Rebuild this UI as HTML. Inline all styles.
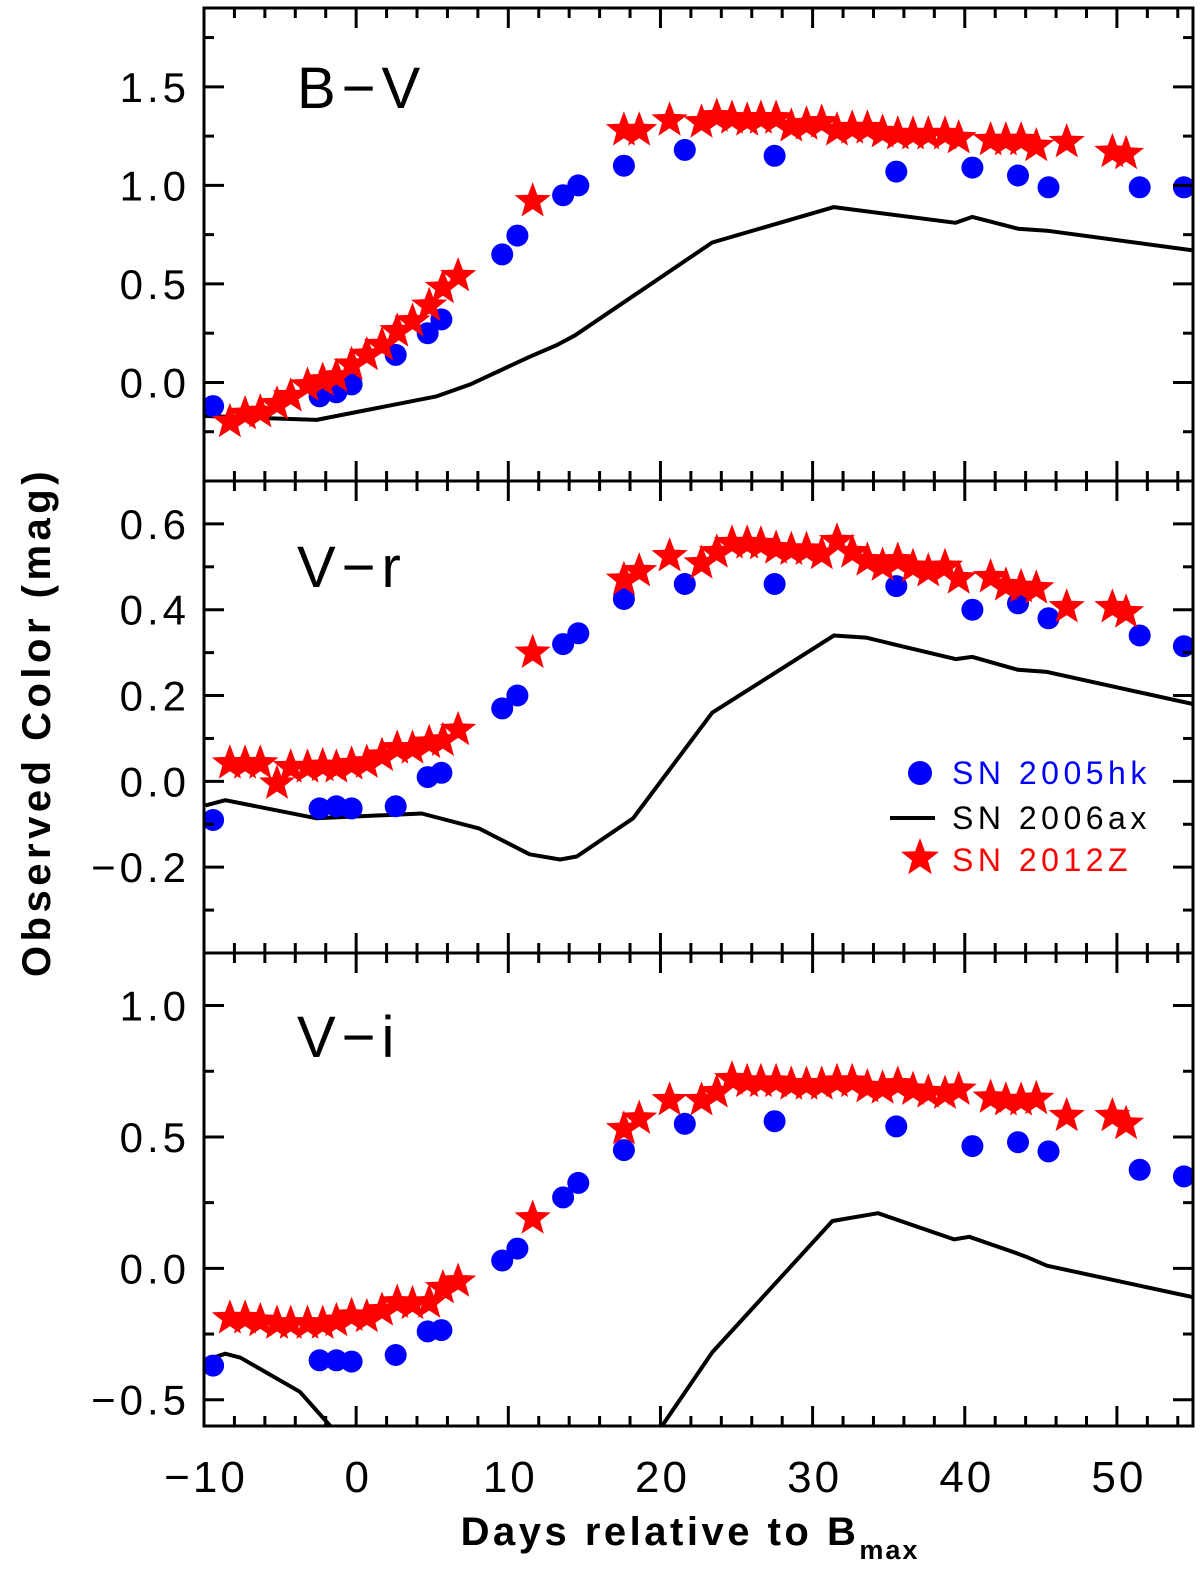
<!DOCTYPE html>
<html><head><meta charset="utf-8"><style>
html,body{margin:0;padding:0;background:#fff;}
svg{display:block;}
text{font-family:"Liberation Sans",sans-serif;}
</style></head><body>
<svg id="chart" width="1200" height="1571" viewBox="0 0 1200 1571" xmlns="http://www.w3.org/2000/svg">
<defs>
<clipPath id="c0"><rect x="204" y="8" width="989" height="473"/></clipPath>
<clipPath id="c1"><rect x="204" y="481" width="989" height="472"/></clipPath>
<clipPath id="c2"><rect x="204" y="953" width="989" height="473"/></clipPath>
</defs>
<g id="layer"></g>
<text transform="translate(50,722) rotate(-90)" text-anchor="middle" font-size="40" font-weight="bold" letter-spacing="4.5">Observed Color (mag)</text>
<text x="690" y="1545" text-anchor="middle" font-size="40" font-weight="bold" letter-spacing="3.5">Days relative to B<tspan font-size="27" dy="14" letter-spacing="2">max</tspan></text>
<g>
<circle cx="920" cy="773" r="12" fill="#0000ff"/>
<text x="952" y="784" font-size="32" letter-spacing="4.5" fill="#0000ff">SN 2005hk</text>
<line x1="890" y1="818" x2="935" y2="818" stroke="#000" stroke-width="4"/>
<text x="952" y="829" font-size="32" letter-spacing="4.5" fill="#000">SN 2006ax</text>
<path id="legstar" fill="#ff0000"/>
<text x="952" y="871" font-size="32" letter-spacing="4.5" fill="#ff0000">SN 2012Z</text>
</g>
</svg>
<script>
// ---- data ----
const hkDays = [-9.4,-2.4,-1.3,-0.3,2.6,4.7,5.6,9.6,10.6,13.6,14.6,17.6,21.6,27.5,35.5,40.5,43.5,45.5,51.5,54.4];
const hkBV = [-0.12,-0.07,-0.05,-0.01,0.14,0.25,0.32,0.65,0.745,0.95,1.0,1.10,1.18,1.15,1.07,1.09,1.05,0.99,0.99,0.99];
const hkVR = [-0.09,-0.063,-0.058,-0.063,-0.058,0.01,0.02,0.17,0.20,0.32,0.345,0.425,0.46,0.46,0.455,0.40,0.415,0.38,0.34,0.315];
const hkVI = [-0.37,-0.35,-0.35,-0.355,-0.33,-0.24,-0.235,0.03,0.075,0.27,0.325,0.45,0.55,0.56,0.54,0.465,0.48,0.445,0.375,0.35];

const zDays = [-8.3,-7.3,-6.3,-5.2,-4.3,-3.2,-2.2,-1.3,-0.3,0.7,1.7,2.7,3.7,4.8,5.7,6.7,11.6,
  17.6,18.6,20.6,22.7,23.7,24.7,25.7,26.6,27.6,28.6,29.6,30.6,31.6,32.6,33.6,34.6,35.6,36.6,37.6,38.7,39.6,41.7,42.7,43.7,44.7,46.7,49.7,50.6];
const zBV = [-0.2,-0.16,-0.15,-0.11,-0.07,-0.015,0.01,0.03,0.09,0.14,0.19,0.26,0.31,0.39,0.48,0.54,0.92,
  1.28,1.28,1.33,1.32,1.35,1.34,1.33,1.34,1.34,1.30,1.31,1.32,1.28,1.29,1.29,1.27,1.26,1.26,1.26,1.26,1.24,1.23,1.23,1.23,1.20,1.22,1.17,1.16];
const zVR = [0.042,0.042,0.042,-0.005,0.033,0.033,0.036,0.033,0.04,0.044,0.06,0.077,0.077,0.09,0.095,0.12,0.30,
  0.47,0.49,0.525,0.508,0.534,0.555,0.555,0.553,0.543,0.54,0.54,0.53,0.56,0.534,0.515,0.503,0.515,0.50,0.49,0.50,0.473,0.476,0.457,0.453,0.45,0.406,0.406,0.394];
const zVI = [-0.19,-0.19,-0.20,-0.21,-0.21,-0.21,-0.21,-0.20,-0.18,-0.185,-0.16,-0.13,-0.135,-0.13,-0.075,-0.05,0.19,
  0.53,0.57,0.64,0.64,0.67,0.72,0.71,0.71,0.71,0.70,0.70,0.70,0.71,0.71,0.69,0.685,0.70,0.68,0.67,0.665,0.68,0.65,0.64,0.64,0.645,0.58,0.58,0.55];

const axBVDays = [-9.9,-2.6,5.3,7.5,11.4,13.2,14.4,23.4,31.4,39.4,40.5,43.5,45.4,55];
const axBV = [-0.17,-0.19,-0.07,-0.01,0.13,0.19,0.24,0.71,0.89,0.81,0.84,0.78,0.77,0.67];
const axVRDays = [-9.9,-8.6,-2.6,4.3,8.1,11.4,13.4,14.5,18.2,23.4,31.4,33.5,39.4,40.5,43.5,45.4,55];
const axVR = [-0.056,-0.044,-0.086,-0.075,-0.11,-0.17,-0.182,-0.175,-0.086,0.16,0.34,0.335,0.285,0.29,0.26,0.255,0.18];
const axVIDays = [-9.9,-8.6,-7.6,-3.7,-1.7,4.3,18.2,20.1,23.4,31.3,34.3,39.3,40.3,43.3,44.2,45.4,55];
const axVI = [-0.35,-0.325,-0.34,-0.47,-0.6,-0.9,-0.8,-0.6,-0.32,0.18,0.21,0.11,0.12,0.06,0.04,0.01,-0.11];

const xTicks = [-10,0,10,20,30,40,50];
const bvTicks = [0.0,0.5,1.0,1.5];
const vrTicks = [-0.2,0.0,0.2,0.4,0.6];
const viTicks = [-0.5,0.0,0.5,1.0];

// ---- layout ----
const NS = "http://www.w3.org/2000/svg";
const XL = 204, XR = 1193, XMIN = -10, XMAX = 55;
const X = d => XL + (d - XMIN) * (XR - XL) / (XMAX - XMIN);
const layer = document.getElementById('layer');
function mk(tag, attrs, parent) {
  const e = document.createElementNS(NS, tag);
  for (const k in attrs) e.setAttribute(k, attrs[k]);
  (parent || layer).appendChild(e);
  return e;
}
function starPath(cx, cy, R) {
  const r = R * 0.42; let p = '';
  for (let i = 0; i < 10; i++) {
    const a = -Math.PI / 2 + i * Math.PI / 5, rr = i % 2 ? r : R;
    p += (i ? 'L' : 'M') + (cx + rr * Math.cos(a)).toFixed(1) + ',' + (cy + rr * Math.sin(a)).toFixed(1);
  }
  return p + 'Z';
}
document.getElementById('legstar').setAttribute('d', starPath(920, 858, 20));

const panels = [
  {name:'b-v', top:8, bot:481, ymin:-0.5, ymax:1.9, major:0.5, minor:0.25, ticks:bvTicks, label:'B\u2212V', lx:297, ly:108, hk:hkBV, z:zBV, axD:axBVDays, ax:axBV, clip:'c0'},
  {name:'v-r', top:481, bot:953, ymin:-0.4, ymax:0.7, major:0.2, minor:0.1, ticks:vrTicks, label:'V\u2212r', lx:297, ly:587, hk:hkVR, z:zVR, axD:axVRDays, ax:axVR, clip:'c1'},
  {name:'v-i', top:953, bot:1426, ymin:-0.6, ymax:1.2, major:0.5, minor:0.25, ticks:viTicks, label:'V\u2212i', lx:297, ly:1057, hk:hkVI, z:zVI, axD:axVIDays, ax:axVI, clip:'c2'}
];

panels.forEach((P, pi) => {
  const Y = v => P.bot - (v - P.ymin) * (P.bot - P.top) / (P.ymax - P.ymin);
  const g = mk('g', {});
  
  
  const data = mk('g', {'clip-path': 'url(#' + P.clip + ')'}, g);
  const line = mk('path', {d: P.axD.map((d, i) => (i ? 'L' : 'M') + X(d).toFixed(1) + ',' + Y(P.ax[i]).toFixed(1)).join(''), fill:'none', stroke:'#000', 'stroke-width':4, 'stroke-linejoin':'round'}, data);
  
  
  hkDays.forEach((d, i) => {
    const c = mk('circle', {cx: X(d).toFixed(1), cy: Y(P.hk[i]).toFixed(1), r: 11, fill:'#0000ff'}, data);
    
    
  });
  zDays.forEach((d, i) => {
    const s = mk('path', {d: starPath(X(d), Y(P.z[i]), 19), fill:'#ff0000'}, data);
    
    
  });
  const fr = mk('rect', {x: XL, y: P.top, width: XR - XL, height: P.bot - P.top, fill:'none', stroke:'#000', 'stroke-width':3}, g);
  
  
  for (let d = -10; d <= 55; d += 2) {
    const maj = d % 10 === 0, L = maj ? 20 : 10, x = X(d);
    mk('line', {x1:x, y1:P.bot, x2:x, y2:P.bot - L, stroke:'#000', 'stroke-width':3}, g);
    mk('line', {x1:x, y1:P.top, x2:x, y2:P.top + L, stroke:'#000', 'stroke-width':3}, g);
  }
  const n0 = Math.ceil(P.ymin / P.minor - 1e-6), n1 = Math.floor(P.ymax / P.minor + 1e-6);
  for (let n = n0; n <= n1; n++) {
    const v = n * P.minor, y = Y(v);
    if (y <= P.top + 1 || y >= P.bot - 1) continue;
    const maj = Math.abs(v / P.major - Math.round(v / P.major)) < 1e-6, L = maj ? 20 : 10;
    mk('line', {x1:XL, y1:y, x2:XL + L, y2:y, stroke:'#000', 'stroke-width':3}, g);
    mk('line', {x1:XR, y1:y, x2:XR - L, y2:y, stroke:'#000', 'stroke-width':3}, g);
  }
  P.ticks.forEach(v => {
    const t = mk('text', {x:190, y:(Y(v) + 15).toFixed(1), 'text-anchor':'end', 'font-size':42, 'letter-spacing':4}, g);
    t.textContent = (v < 0 ? '\u2212' : '') + Math.abs(v).toFixed(1);
    
    
  });
  const lab = mk('text', {x:P.lx, y:P.ly, 'font-size':58, 'letter-spacing':6}, g);
  lab.textContent = P.label;
  
  
  if (pi === 2) {
    xTicks.forEach(d => {
      const t = mk('text', {x:(X(d) + 2).toFixed(1), y:1492, 'text-anchor':'middle', 'font-size':44, 'letter-spacing':3}, g);
      t.textContent = (d < 0 ? '\u2212' : '') + Math.abs(d);
      
      
    });
  }
});
</script>
</body></html>
